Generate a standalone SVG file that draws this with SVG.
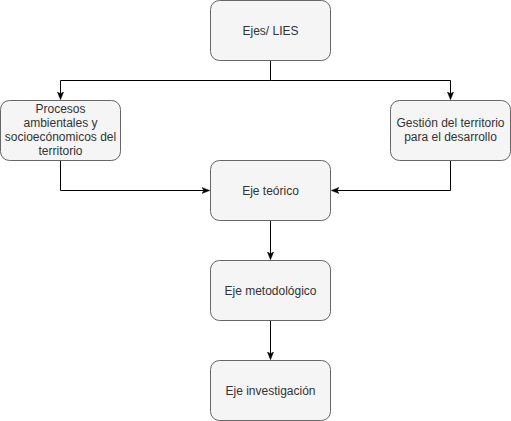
<svg xmlns="http://www.w3.org/2000/svg" width="511" height="421" viewBox="0 0 511 421">
<defs>
<style>
.box{fill:#f5f5f5;stroke:#666666;stroke-width:1}
.lbl{font-family:"Liberation Sans",Arial,Helvetica,sans-serif;font-size:12px;fill:#333333;text-anchor:middle}
.edge{fill:none;stroke:#000000;stroke-width:1}
</style>
<marker id="arr" viewBox="0 0 10 10" refX="9" refY="5" markerWidth="8" markerHeight="8" orient="auto" markerUnits="userSpaceOnUse">
<path d="M0,1 L10,5 L0,9 L2.5,5 Z" fill="#000000" stroke="#000000" stroke-width="0.5"/>
</marker>
</defs>
<rect width="511" height="421" fill="#ffffff"/>
<g id="connectors">
<path class="edge" d="M270.5,60.5 V80.5 H60.5 V99" marker-end="url(#arr)"/>
<path class="edge" d="M270.5,80.5 H450.5 V99" marker-end="url(#arr)"/>
<path class="edge" d="M60.5,160.5 V190.5 H209" marker-end="url(#arr)"/>
<path class="edge" d="M450.5,160.5 V190.5 H332" marker-end="url(#arr)"/>
<path class="edge" d="M270.5,220.5 V259" marker-end="url(#arr)"/>
<path class="edge" d="M270.5,320.5 V359" marker-end="url(#arr)"/>
</g>
<g id="ejes-lies">
<rect class="box" x="210.5" y="0.5" width="120" height="60" rx="9"/>
<text class="lbl" x="270.5" y="34.5">Ejes/ LIES</text>
</g>
<g id="procesos">
<rect class="box" x="0.5" y="100.5" width="120" height="60" rx="9"/>
<text class="lbl" x="60.5" y="113">Procesos</text>
<text class="lbl" x="60.5" y="127">ambientales y</text>
<text class="lbl" x="60.5" y="141">socioecónomicos del</text>
<text class="lbl" x="60.5" y="155">territorio</text>
</g>
<g id="gestion">
<rect class="box" x="390.5" y="100.5" width="120" height="60" rx="9"/>
<text class="lbl" x="450.5" y="127">Gestión del territorio</text>
<text class="lbl" x="450.5" y="141">para el desarrollo</text>
</g>
<g id="eje-teorico">
<rect class="box" x="210.5" y="160.5" width="120" height="60" rx="9"/>
<text class="lbl" x="270.5" y="194.5">Eje teórico</text>
</g>
<g id="eje-metodologico">
<rect class="box" x="210.5" y="260.5" width="120" height="60" rx="9"/>
<text class="lbl" x="270.5" y="294.5">Eje metodológico</text>
</g>
<g id="eje-investigacion">
<rect class="box" x="210.5" y="360.5" width="120" height="60" rx="9"/>
<text class="lbl" x="270.5" y="394.5">Eje investigación</text>
</g>
</svg>
